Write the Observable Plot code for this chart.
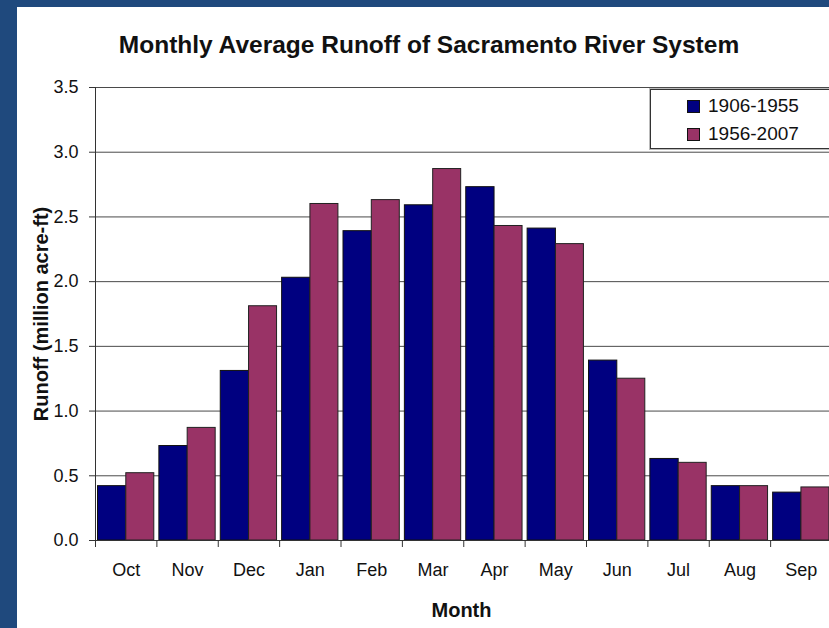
<!DOCTYPE html>
<html>
<head>
<meta charset="utf-8">
<script src="https://cdn.jsdelivr.net/npm/d3@7"></script>
<script src="https://cdn.jsdelivr.net/npm/@observablehq/plot@0.6"></script>
<style>
  html, body { margin: 0; padding: 0; }
  body { width: 829px; height: 628px; overflow: hidden; background: #1F497D; position: relative; font-family: "Liberation Sans", Arial, sans-serif; }
  #panel { position: absolute; left: 17px; top: 7px; right: 0; bottom: 0; background: #ffffff; }
  #chart { position: absolute; left: 0; top: 0; }
  #legend { position: absolute; left: 650px; top: 89px; width: 200px; height: 58px; border: 1px solid #333; box-shadow: 0 0 0 1px #bbb; background: #fff; }
  .item { position: absolute; left: 36px; height: 22px; display: flex; align-items: center; font-size: 19px; color: #111; }
  .sw { width: 11px; height: 11px; border: 1px solid #111; margin-right: 8px; }
</style>
</head>
<body>
<div id="panel"></div>
<div id="chart"></div>
<div id="legend"></div>
<script>
const title = "Monthly Average Runoff of Sacramento River System";
const months = ["Oct", "Nov", "Dec", "Jan", "Feb", "Mar", "Apr", "May", "Jun", "Jul", "Aug", "Sep"];
const seriesNames = ["1906-1955", "1956-2007"];
const runoff1906 = [0.42, 0.73, 1.31, 2.03, 2.39, 2.59, 2.73, 2.41, 1.39, 0.63, 0.42, 0.37];
const runoff1956 = [0.52, 0.87, 1.81, 2.60, 2.63, 2.87, 2.43, 2.29, 1.25, 0.60, 0.42, 0.41];
const seriesColors = ["#000080", "#993366"];
const yTicks = [0, 0.5, 1.0, 1.5, 2.0, 2.5, 3.0, 3.5];
const yLabel = "Runoff (million acre-ft)";
const xLabel = "Month";

const rows = months.map((m, i) => ({ month: m, early: runoff1906[i], late: runoff1956[i] }));

const W = 829, H = 628, mL = 95, mR = 0, mT = 87, mB = 88;
const xEnd = 831.5;
const bw = (xEnd - mL) / months.length;

const chart = Plot.plot({
  width: W,
  height: H,
  marginLeft: mL,
  marginRight: mR,
  marginTop: mT,
  marginBottom: mB,
  style: { background: "transparent", fontFamily: "'Liberation Sans', Arial, sans-serif", color: "#111" },
  x: { domain: months, padding: 0, round: false, range: [mL, xEnd], axis: null },
  y: { domain: [0, 3.5], axis: null },
  marks: [
    Plot.ruleY(yTicks.slice(1), { stroke: "#4a4a4a", strokeWidth: 1 }),
    Plot.barY(rows, { x: "month", y: "early", fill: seriesColors[0], stroke: "#111", strokeWidth: 1, insetLeft: 2.5, insetRight: bw - 30.8 }),
    Plot.barY(rows, { x: "month", y: "late", fill: seriesColors[1], stroke: "#222", strokeWidth: 1, insetLeft: 30.8, insetRight: bw - 58.8 }),
    Plot.ruleY([0], { stroke: "#333" }),
    Plot.frame({ anchor: "left", stroke: "#333" }),
    Plot.axisY({ ticks: yTicks, tickFormat: d3.format(".1f"), tickSize: 6, tickPadding: 11, fontSize: 18, label: null, stroke: "#333" }),
    Plot.ruleX(months, { x: d => d, dx: -bw / 2, insetTop: H - mT - mB, insetBottom: -7, stroke: "#333" }),
    Plot.axisX({ tickSize: 0, tickPadding: 23, fontSize: 18, label: null }),
    Plot.text([title], { frameAnchor: "top", dy: -42.5, dx: -33.5, fontSize: 24.5, fontWeight: "bold", lineAnchor: "middle", fill: "#111" }),
    Plot.text([yLabel], { frameAnchor: "left", rotate: -90, dx: -54, textAnchor: "middle", lineAnchor: "middle", fontSize: 20, fontWeight: "bold", fill: "#111" }),
    Plot.text([xLabel], { frameAnchor: "bottom", dy: 70, dx: -1, lineAnchor: "middle", fontSize: 20, fontWeight: "bold", fill: "#111" })
  ]
});
document.getElementById("chart").appendChild(chart);

const legend = document.getElementById("legend");
seriesNames.forEach((name, i) => {
  const item = document.createElement("div");
  item.className = "item";
  item.style.top = (5 + i * 28) + "px";
  const sw = document.createElement("div");
  sw.className = "sw";
  sw.style.background = seriesColors[i];
  const t = document.createElement("span");
  t.textContent = name;
  item.appendChild(sw);
  item.appendChild(t);
  legend.appendChild(item);
});
</script>
</body>
</html>
